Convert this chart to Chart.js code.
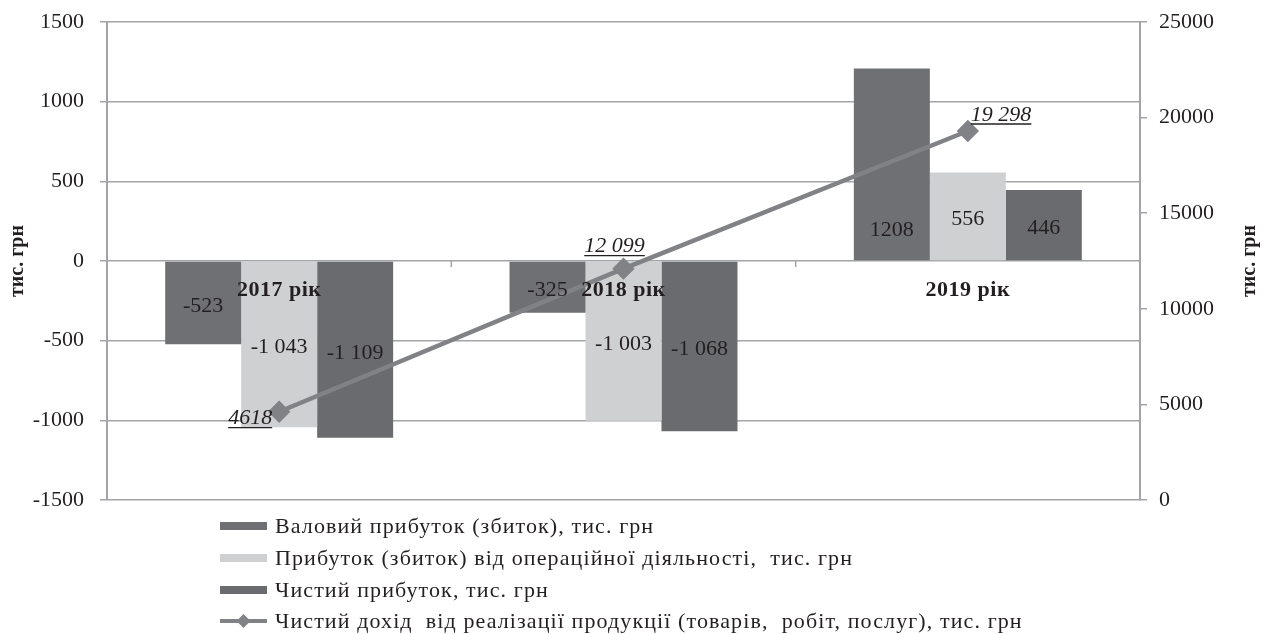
<!DOCTYPE html>
<html lang="uk">
<head>
<meta charset="utf-8">
<title>Фінансові результати 2017–2019</title>
<script src="https://cdn.jsdelivr.net/npm/chart.js@4.4.1/dist/chart.umd.min.js"></script>
<style>
  html, body { margin: 0; padding: 0; background: #ffffff; }
  #wrap { width: 1272px; height: 634px; position: relative; }
</style>
</head>
<body>
<div id="wrap"><canvas id="chart" width="1272" height="634"></canvas></div>
<script>
// Categories (years)
const categories = ['2017 рік', '2018 рік', '2019 рік'];

// Bar series, тис. грн (left axis)
const grossProfit = [-523, -325, 1208];
const operatingProfit = [-1043, -1003, 556];
const netProfit = [-1109, -1068, 446];

// Line series, тис. грн (right axis)
const netRevenue = [4618, 12099, 19298];

// Series names
const seriesNames = [
  'Валовий прибуток (збиток), тис. грн',
  'Прибуток (збиток) від операційної діяльності,  тис. грн',
  'Чистий прибуток, тис. грн',
  'Чистий дохід  від реалізації продукції (товарів,  робіт, послуг), тис. грн'
];
const axisTitle = 'тис. грн';

const SERIF = '"Liberation Serif", "DejaVu Serif", serif';
const TEXT = '#231f20';
const GRID = '#a3a4a7';
const DARK = '#6f7073';
const DARK2 = '#6a6b6e';
const LIGHT = '#cfd0d2';
const LINE = '#808285';

function group(v) {
  return String(Math.abs(v)).replace(/\B(?=(\d{3})+(?!\d))/g, ' ');
}
// bar value labels: negatives of four digits are grouped
function fmtBar(v) {
  return v <= -1000 ? '-' + group(v) : String(v);
}
// line value labels: five-digit values are grouped
function fmtLine(v) {
  return v >= 10000 ? group(v) : String(v);
}

// fixed axis widths, no extra padding for the end labels
function fitAxis(width) {
  return s => {
    s.width = width;
    s.paddingTop = 0;
    s.paddingBottom = 0;
  };
}

const overlay = {
  id: 'overlay',
  afterDatasetsDraw(chart, args, opts) {
    const ctx = chart.ctx;
    const x = chart.scales.x;
    const y = chart.scales.y;
    const area = chart.chartArea;
    const zeroY = y.getPixelForValue(0);
    ctx.save();

    // category boundary ticks on the zero line
    ctx.strokeStyle = GRID;
    ctx.lineWidth = 1.5;
    for (let i = 1; i < categories.length; i++) {
      const bx = (x.getPixelForValue(i - 1) + x.getPixelForValue(i)) / 2;
      ctx.beginPath();
      ctx.moveTo(bx, zeroY);
      ctx.lineTo(bx, zeroY + 6);
      ctx.stroke();
    }

    // bar value labels, centred in the bars
    ctx.fillStyle = TEXT;
    ctx.font = '22px ' + SERIF;
    ctx.textAlign = 'center';
    ctx.textBaseline = 'middle';
    chart.data.datasets.forEach((ds, di) => {
      if (ds.type !== 'bar') return;
      const meta = chart.getDatasetMeta(di);
      meta.data.forEach((bar, i) => {
        const key = di + '-' + i;
        const dy = (opts.labelShift && opts.labelShift[key]) || 0;
        const cy = (bar.y + bar.base) / 2 + 3 + dy;
        ctx.fillText(fmtBar(ds.data[i]), bar.x, cy);
      });
    });

    // category names near the zero line
    ctx.font = 'bold 22px ' + SERIF;
    ctx.letterSpacing = '0.5px';
    categories.forEach((c, i) => {
      ctx.fillText(c, x.getPixelForValue(i), zeroY + 29);
    });
    ctx.letterSpacing = '0px';

    // line value labels, italic and underlined
    const li = chart.data.datasets.findIndex(d => d.type === 'line');
    const lmeta = chart.getDatasetMeta(li);
    ctx.font = 'italic 22px ' + SERIF;
    ctx.textBaseline = 'middle';
    lmeta.data.forEach((pt, i) => {
      const txt = fmtLine(chart.data.datasets[li].data[i]);
      const w = ctx.measureText(txt).width;
      const pos = opts.lineLabelPos[i];
      let left, cy;
      if (pos === 'left') { left = pt.x - 7 - w; cy = pt.y + 7; }
      else if (pos === 'above') { left = pt.x - 9 - w / 2; cy = pt.y - 22; }
      else { left = pt.x + 3; cy = pt.y - 16; }
      ctx.textAlign = 'left';
      ctx.fillText(txt, left, cy);
      ctx.strokeStyle = TEXT;
      ctx.lineWidth = 1.3;
      ctx.beginPath();
      ctx.moveTo(left, cy + 9);
      ctx.lineTo(left + w, cy + 9);
      ctx.stroke();
    });

    // axis titles, both reading bottom to top
    ctx.font = 'bold 20px ' + SERIF;
    ctx.textAlign = 'center';
    ctx.textBaseline = 'middle';
    const midY = (area.top + area.bottom) / 2;
    [[18, midY], [1250, midY]].forEach(([tx, ty]) => {
      ctx.save();
      ctx.translate(tx, ty);
      ctx.rotate(-Math.PI / 2);
      ctx.fillText(axisTitle, 0, 0);
      ctx.restore();
    });

    // legend, one entry per row
    const lx = 220, sw = 47, tx0 = 275;
    const rows = [526, 558, 590, 621];
    ctx.font = '22px ' + SERIF;
    ctx.letterSpacing = '1.1px';
    ctx.textAlign = 'left';
    chart.data.datasets.forEach((ds, di) => {
      const ry = rows[di];
      if (ds.type === 'bar') {
        ctx.fillStyle = ds.backgroundColor;
        ctx.fillRect(lx, ry - 4, sw, 8);
      } else {
        ctx.strokeStyle = ds.borderColor;
        ctx.lineWidth = 4;
        ctx.beginPath();
        ctx.moveTo(lx, ry);
        ctx.lineTo(lx + sw, ry);
        ctx.stroke();
        ctx.fillStyle = ds.borderColor;
        ctx.beginPath();
        const mx = lx + sw / 2, r = 7;
        ctx.moveTo(mx, ry - r);
        ctx.lineTo(mx + r, ry);
        ctx.lineTo(mx, ry + r);
        ctx.lineTo(mx - r, ry);
        ctx.closePath();
        ctx.fill();
      }
      ctx.fillStyle = TEXT;
      ctx.fillText(seriesNames[di], tx0, ry + 1);
    });
    ctx.letterSpacing = '0px';

    ctx.restore();
  }
};

new Chart(document.getElementById('chart'), {
  data: {
    labels: categories,
    datasets: [
      { type: 'bar', label: seriesNames[0], data: grossProfit, backgroundColor: DARK, yAxisID: 'y', order: 1 },
      { type: 'bar', label: seriesNames[1], data: operatingProfit, backgroundColor: LIGHT, yAxisID: 'y', order: 1 },
      { type: 'bar', label: seriesNames[2], data: netProfit, backgroundColor: DARK2, yAxisID: 'y', order: 1 },
      {
        type: 'line', label: seriesNames[3], data: netRevenue, yAxisID: 'y1', order: 0,
        borderColor: LINE, backgroundColor: LINE, borderWidth: 4.5,
        pointStyle: 'rectRot', pointRadius: 8, pointHoverRadius: 8, tension: 0
      }
    ]
  },
  options: {
    responsive: false,
    animation: false,
    events: [],
    layout: { padding: { left: 0, right: 0, top: 22, bottom: 134 } },
    datasets: { bar: { categoryPercentage: 0.662, barPercentage: 1 } },
    plugins: {
      legend: { display: false },
      tooltip: { enabled: false },
      overlay: {
        labelShift: { '0-2': 63 },
        lineLabelPos: ['left', 'above', 'right']
      }
    },
    scales: {
      x: { display: false, offset: true },
      y: {
        position: 'left', min: -1500, max: 1500,
        afterFit: fitAxis(107),
        ticks: { stepSize: 500, color: TEXT, padding: 16, font: { family: SERIF, size: 22 }, callback: v => String(v) },
        grid: { color: GRID, lineWidth: 1.5, tickLength: 7, tickColor: GRID },
        border: { color: GRID, width: 2 }
      },
      y1: {
        position: 'right', min: 0, max: 25000,
        afterFit: fitAxis(132),
        ticks: { stepSize: 5000, color: TEXT, padding: 12, font: { family: SERIF, size: 22 }, callback: v => String(v) },
        grid: { drawOnChartArea: false, tickLength: 7, tickColor: GRID, lineWidth: 1.5 },
        border: { color: GRID, width: 2 }
      }
    }
  },
  plugins: [overlay]
});
</script>
</body>
</html>
